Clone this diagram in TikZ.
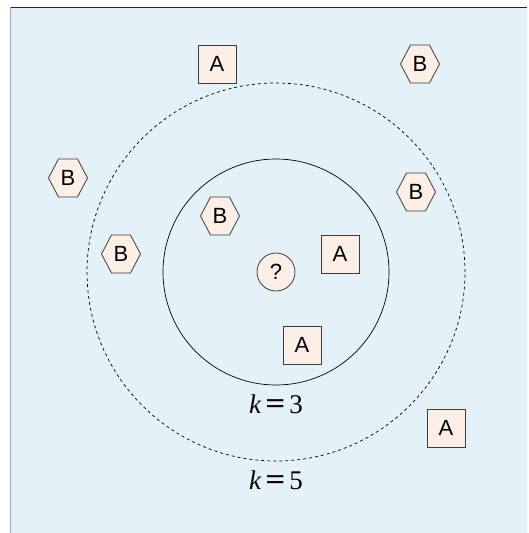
\documentclass[tikz,border=0pt]{standalone}
\usepackage{fontspec}
\setmainfont{Liberation Serif}
\newfontfamily\nodefont{Liberation Sans}
\definecolor{bgblue}{RGB}{227,241,248}
\definecolor{peach}{RGB}{253,238,230}
\definecolor{edgegray}{RGB}{60,60,60}
\newcommand\nodesize{\fontsize{22pt}{22pt}\selectfont}
\newcommand\ksize{\fontsize{27pt}{27pt}\selectfont}
\newcommand\bigeq{\scalebox{1.3}[1.1]{\bfseries =}}
\tikzset{
  sq/.style={draw=edgegray, fill=peach, line width=0.8pt, minimum width=38pt, minimum height=38pt, inner sep=0pt, font=\nodefont\nodesize},
  qcirc/.style={draw=edgegray, fill=peach, line width=0.8pt, circle, minimum size=38pt, inner sep=0pt, font=\nodefont\nodesize},
  hexlabel/.style={inner sep=0pt, font=\nodefont\nodesize},
  hexB/.pic={
    \filldraw[draw=edgegray, fill=peach, line width=0.8pt] (-19.5,0) -- (-9.5,19) -- (9.5,19) -- (19.5,0) -- (9.5,-19) -- (-9.5,-19) -- cycle;
    \node[hexlabel] (-c) at (0,0) {B};
  },
  klabel/.style={anchor=base, inner sep=0pt, font=\ksize}
}
\begin{document}
\begin{tikzpicture}[x=1pt, y=-1pt]
\useasboundingbox (0,0) rectangle (528,533);
\fill[bgblue] (10,7) rectangle (527,533);
\draw[black!85, line width=1pt] (10,7) -- (527,7);
\draw[gray!70, line width=1pt] (10,7) -- (10,533);

\node[circle, draw, line width=0.7pt, minimum size=226pt, inner sep=0pt] (k3) at (276,272) {};
\node[circle, draw, dashed, line width=0.7pt, minimum size=378pt, inner sep=0pt] (k5) at (276,272) {};

\node[sq] (a1) at (217,64) {A};
\node[sq] (a2) at (340,254) {A};
\node[sq] (a3) at (302,345) {A};
\node[sq] (a4) at (446,428) {A};

\pic (b1) at (420,64) {hexB};
\pic (b2) at (68,178) {hexB};
\pic (b3) at (121,254) {hexB};
\pic (b4) at (220,216) {hexB};
\pic (b5) at (416,192) {hexB};

\node[qcirc] (q) at (276,272) {?};

\node[klabel] (l3) at (276,413) {\textit{k}\kern4pt\bigeq\kern4pt3};
\node[klabel] (l5) at (276,489) {\textit{k}\kern4pt\bigeq\kern4pt5};
\end{tikzpicture}
\end{document}
